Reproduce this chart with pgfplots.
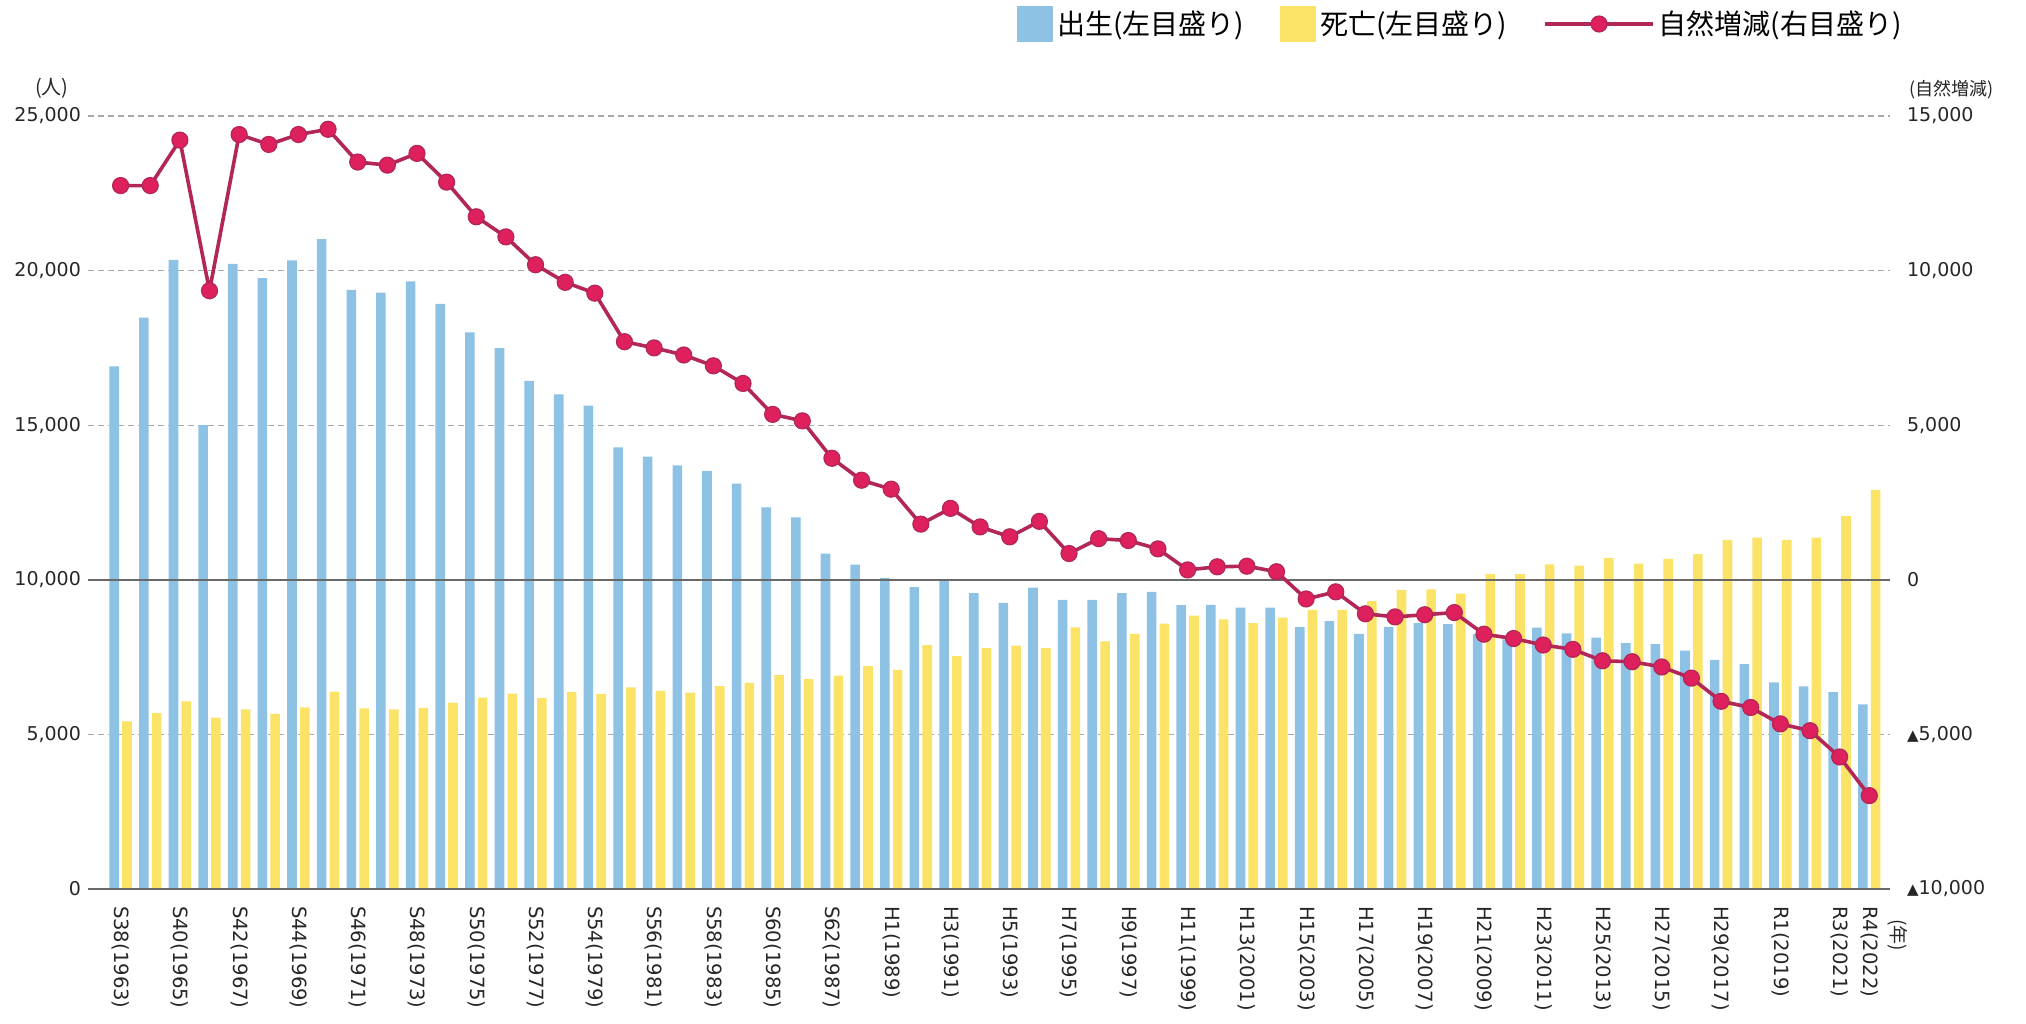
\documentclass[border=0pt]{standalone}
\usepackage{pgfplots}
\pgfplotsset{compat=1.18}
\usepackage{pgfplotstable}
\usepackage{fontspec}
\setmainfont{DejaVu Sans}
\newfontfamily\cjk{Noto Sans CJK JP}

\definecolor{birthC}{RGB}{142,194,229}
\definecolor{deathC}{RGB}{251,227,104}
\definecolor{lineC}{RGB}{178,38,88}
\definecolor{markC}{RGB}{222,32,92}
\definecolor{gridC}{RGB}{170,170,170}
\definecolor{zeroC}{RGB}{105,105,105}

\newcommand\tri{{\fontsize{7.5}{8}\selectfont ▲}}

% year index (0 = 1963), births, deaths, natural increase
\pgfplotstableread{
i births deaths net
0 16900 5420 12750
1 18480 5690 12750
2 20350 6070 14220
3 15000 5540 9350
4 20220 5810 14400
5 19760 5660 14080
6 20330 5870 14400
7 21020 6380 14570
8 19380 5840 13510
9 19290 5810 13410
10 19650 5860 13790
11 18920 6030 12860
12 18000 6190 11740
13 17490 6320 11090
14 16430 6170 10190
15 16000 6370 9620
16 15630 6310 9270
17 14280 6520 7700
18 13980 6410 7500
19 13700 6350 7270
20 13520 6560 6920
21 13110 6670 6350
22 12340 6920 5350
23 12020 6790 5140
24 10850 6900 3930
25 10490 7210 3220
26 10060 7090 2930
27 9760 7890 1800
28 9990 7530 2310
29 9570 7790 1710
30 9250 7870 1390
31 9750 7790 1890
32 9350 8460 850
33 9350 8010 1330
34 9570 8250 1270
35 9610 8580 1000
36 9180 8840 320
37 9190 8720 420
38 9100 8600 440
39 9100 8780 260
40 8470 9030 -620
41 8660 9030 -390
42 8250 9310 -1100
43 8480 9670 -1200
44 8600 9690 -1130
45 8570 9550 -1060
46 8250 10180 -1760
47 8070 10180 -1900
48 8450 10500 -2110
49 8270 10460 -2250
50 8130 10700 -2620
51 7950 10520 -2650
52 7920 10680 -2820
53 7710 10830 -3180
54 7410 11290 -3930
55 7270 11360 -4130
56 6680 11290 -4660
57 6550 11360 -4880
58 6370 12060 -5730
59 5970 12900 -6980
}\popdata

\pgfplotsset{
  legbar/.style={legend image code/.code={\fill[##1] (0pt,-9pt) rectangle (18pt,9pt);}},
  legline/.style={legend image code/.code={\draw[mark repeat=2,mark phase=2,##1] plot coordinates {(0pt,0pt) (27pt,0pt) (54pt,0pt)};}},
}

\begin{document}
\begin{tikzpicture}
\begin{axis}[
    name=main,
    width=901pt, height=386.5pt, scale only axis,
    xmin=-1.1, xmax=59.7,
    ymin=0, ymax=25000,
    scaled y ticks=false,
    axis line style={draw=none},
    major tick style={draw=none},
    ytick={0,5000,10000,15000,20000,25000},
    yticklabels={0,{5,000},{10,000},{15,000},{20,000},{25,000}},
    xtick={0,2,4,6,8,10,12,14,16,18,20,22,24,26,28,30,32,34,36,38,40,42,44,46,48,50,52,54,56,58,59},
    xticklabels={S38(1963),S40(1965),S42(1967),S44(1969),S46(1971),S48(1973),S50(1975),S52(1977),S54(1979),S56(1981),S58(1983),S60(1985),S62(1987),H1(1989),H3(1991),H5(1993),H7(1995),H9(1997),H11(1999),H13(2001),H15(2003),H17(2005),H19(2007),H21(2009),H23(2011),H25(2013),H27(2015),H29(2017),R1(2019),R3(2021),R4(2022)},
    ymajorgrids,
    grid style={gridC, dash pattern=on 3pt off 2pt, line width=0.6pt},
    ticklabel style={text=black!85},
    yticklabel style={font=\fontsize{9.5}{11}\selectfont},
    xticklabel style={font=\fontsize{9.8}{11}\selectfont, rotate=-90, anchor=west},
    xticklabel shift=5pt,
    clip=false,
]
\addplot[ybar, bar width=4.8pt, bar shift=-3.2pt, fill=birthC, draw=none] table[x=i, y=births] {\popdata};
\addplot[ybar, bar width=4.8pt, bar shift=3.2pt, fill=deathC, draw=none] table[x=i, y=deaths] {\popdata};
\draw[zeroC, line width=0.8pt] (axis cs:-1.1,0) -- (axis cs:59.7,0);
\draw[zeroC, line width=0.8pt] (axis cs:-1.1,10000) -- (axis cs:59.7,10000);
\node[font=\cjk\fontsize{10}{10}\selectfont, text=black!85] at (axis description cs:-0.02,1.036) {(人)};
\node[font=\cjk\fontsize{9}{9}\selectfont, text=black!85] at (axis description cs:1.034,1.034) {(自然増減)};
\node[font=\cjk\fontsize{9.5}{10}\selectfont, text=black!85, rotate=-90, anchor=west] at (axis description cs:1.004,-0.03) {(年)};
\end{axis}

\begin{axis}[
    at={(main.south west)}, anchor=south west,
    width=901pt, height=386.5pt, scale only axis,
    xmin=-1.1, xmax=59.7,
    ymin=-10000, ymax=15000,
    scaled y ticks=false,
    hide x axis,
    axis y line*=right,
    y axis line style={draw=none},
    major tick style={draw=none},
    ytick={-10000,-5000,0,5000,10000,15000},
    yticklabels={{\tri10,000},{\tri5,000},0,{5,000},{10,000},{15,000}},
    yticklabel style={font=\fontsize{9.5}{11}\selectfont, text=black!85, anchor=west},
    yticklabel shift=5pt,
    clip=false,
    legend style={draw=none, fill=none, inner sep=0pt,
        at={(1.009,1.119)}, anchor=east,
        font=\cjk\fontsize{14}{16}\selectfont,
        /tikz/every even column/.append style={column sep=16pt}},
    legend columns=3,
    legend cell align=left,
]
\addlegendimage{legbar, fill=birthC, draw=none}
\addlegendentry{出生(左目盛り)}
\addlegendimage{legbar, fill=deathC, draw=none}
\addlegendentry{死亡(左目盛り)}
\addplot[legline, lineC, line width=1.8pt, mark=*, mark size=4pt,
    mark options={fill=markC, draw=lineC, line width=0.6pt}]
    table[x=i, y=net] {\popdata};
\addlegendentry{自然増減(右目盛り)}
\end{axis}
\pgfresetboundingbox
\path ([shift={(-44pt,-67.5pt)}]main.south west) rectangle ([shift={(68pt,58pt)}]main.north east);
\end{tikzpicture}
\end{document}
